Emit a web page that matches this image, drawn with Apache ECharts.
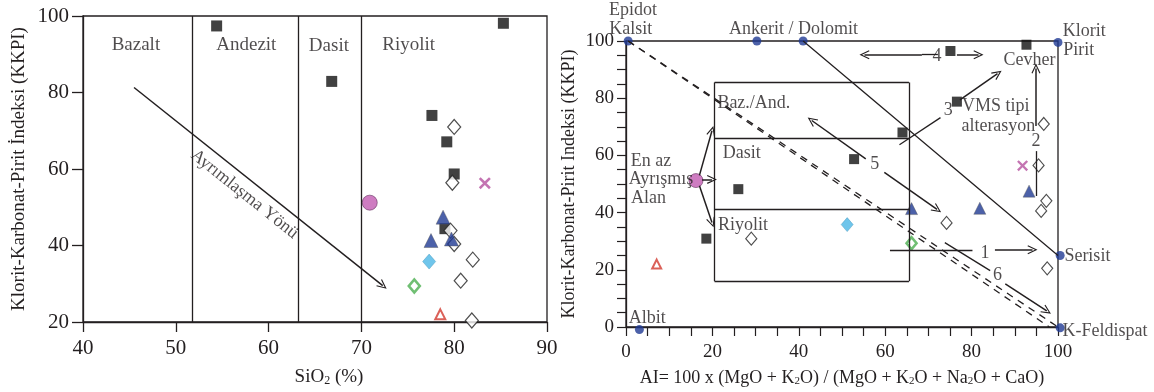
<!DOCTYPE html>
<html>
<head>
<meta charset="utf-8">
<script src="https://cdn.jsdelivr.net/npm/echarts@6/dist/echarts.min.js"></script>
<style>
  html, body { margin: 0; padding: 0; background: #fff; }
  #chart { width: 1154px; height: 392px; }
</style>
</head>
<body>
<div id="chart"></div>
<script>
// ---- left panel: SiO2 (%) vs KKPI ----
var leftSquares = [[54.4, 97.4], [85.3, 98.1], [66.8, 82.9], [77.6, 74.0], [79.2, 67.1], [80.0, 58.7], [79.0, 44.4]];
var leftOpenDiamonds = [[80.0, 71.0], [79.8, 56.4], [79.6, 43.9], [80.0, 40.4], [82.0, 36.3], [80.7, 30.8], [81.9, 20.4]];
var leftTriangles = [[78.8, 47.4], [77.5, 41.3], [79.7, 41.7]];
var leftCircle = [[70.9, 51.2]];
var leftCross = [[83.3, 56.3]];
var leftCyan = [[77.3, 35.8]];
var leftGreen = [[75.7, 29.4]];
var leftRed = [[78.5, 22.0]];
var rockBounds = [51.8, 63.2, 70];
var rockLabels = [['Bazalt', 45.7, 92.5], ['Andezit', 57.6, 92.5], ['Dasit', 66.5, 92.2], ['Riyolit', 75.1, 92.5]];
var trendArrow = [[45.5, 81.3], [72.3, 29.5]];
var trendText = ['Ayrımlaşma Yönü', 57.4, 53.4];

// ---- right panel: AI vs KKPI (alterasyon kutu diyagramı) ----
var rightSquares = [[75.1, 96.5], [92.7, 98.7], [76.6, 78.8], [64.0, 68.0], [52.8, 58.7], [26.0, 48.2], [18.6, 30.9]];
var rightOpenDiamonds = [[96.7, 71.0], [95.5, 56.5], [97.3, 44.1], [96.1, 40.6], [74.2, 36.4], [29.0, 30.9], [97.5, 20.5]];
var rightTriangles = [[66.1, 41.4], [81.9, 41.5], [93.3, 47.5]];
var rightCircle = [[16.2, 51.2]];
var rightCross = [[91.8, 56.4]];
var rightCyan = [[51.2, 35.8]];
var rightGreen = [[66.1, 29.3]];
var rightRed = [[7.1, 22.0]];
var endMembers = [[0.5, 100], [30.3, 100], [41, 100], [100, 99.5], [100.5, 25], [100.5, -0.3], [3.1, -0.9]];
var endLabels = [
  ['Epidot', 1.6, 110.7], ['Kalsit', 1.1, 104.1], ['Ankerit / Dolomit', 38.8, 104.1],
  ['Klorit', 106.1, 103.5], ['Pirit', 104.8, 96.8], ['Serisit', 106.8, 24.7],
  ['K-Feldispat', 110.9, -1.4], ['Albit', 4.9, 3.2]
];
var areaLabels = [
  ['Baz./And.', 29.6, 78.4], ['Dasit', 26.8, 60.8], ['Riyolit', 27.1, 35.6],
  ['En az', 5.8, 57.9], ['Ayrışmış', 8.1, 51.6], ['Alan', 5.2, 45.1],
  ['Cevher', 93.4, 93.3], ['VMS tipi', 85.6, 77.1], ['alterasyon', 86.2, 70.3],
  ['1', 83.1, 25.8], ['2', 94.9, 64.9], ['3', 74.6, 75.9], ['4', 72.0, 94.8],
  ['5', 57.6, 56.8], ['6', 86.0, 18.0]
];
// plain lines [x1, y1, x2, y2]
var solidLines = [
  [41, 100, 100, 25],
  [20.5, 85.5, 65.5, 85.5], [20.5, 16, 65.5, 16], [20.5, 16, 20.5, 85.5], [65.5, 16, 65.5, 85.5],
  [20.5, 66, 65.5, 66], [20.5, 41, 65.5, 41],
  [68.5, 95.2, 72.2, 95.2],
  [63.3, 63.7, 72.8, 73.2],
  [94.9, 45.8, 94.9, 61.5],
  [61.1, 27, 80.2, 27],
  [73.8, 29.5, 84.3, 19.7]
];
var dashedLines = [[0.5, 100, 100, 0], [0.5, 100, 98, 0]];
// arrows [x1, y1, x2, y2], head at the second point
var arrows = [
  [68.5, 95.2, 55.2, 95.2], [76.6, 95.2, 81.6, 95.2],
  [77.3, 79.4, 86, 88.6],
  [94.9, 70.3, 94.9, 90.4],
  [55.5, 58.8, 43, 72.2], [59.8, 54.1, 72, 41.1],
  [85.4, 27, 94.1, 27],
  [87.8, 15.1, 97.4, 5.6],
  [17.0, 53.0, 19.9, 68.6], [17.6, 51.6, 19.9, 51.6], [17.0, 49.4, 19.9, 36.5]
];

var serif = 'Liberation Serif, Times New Roman, serif';
var ink = '#231f20';
var navy = '#1f3a93';
var chevron = 'path://M0,12 L6,0 L12,12 L10.6,12.6 L6,3.2 L1.4,12.6 Z';

function pairLines(list, type, width, head) {
  return list.map(function (l) {
    return [
      { coord: [l[0], l[1]], symbol: 'none' },
      { coord: [l[2], l[3]], symbol: head ? chevron : 'none', symbolSize: head ? [9, 10] : 0,
        lineStyle: { type: type, width: width, color: ink } }
    ];
  });
}

function marks(gi, name, data, sym, size, style, z) {
  return {
    name: name, type: 'scatter', xAxisIndex: gi, yAxisIndex: gi, data: data, clip: false,
    symbol: sym, symbolSize: size, itemStyle: style, z: z || 3, silent: true
  };
}

function labels(gi, list, size) {
  return {
    type: 'scatter', xAxisIndex: gi, yAxisIndex: gi, clip: false, silent: true,
    symbolSize: 0, z: 5,
    data: list.map(function (t) { return { value: [t[1], t[2]], name: t[0] }; }),
    label: {
      show: true, position: 'inside', formatter: '{b}',
      fontFamily: serif, fontSize: size, color: ink
    }
  };
}

function lineHost(gi, solid, dashed, arr) {
  var data = pairLines(solid, 'solid', 1.3, false)
    .concat(pairLines(dashed, [7, 6], 1.3, false))
    .concat(pairLines(arr, 'solid', 1.5, true));
  return {
    type: 'scatter', xAxisIndex: gi, yAxisIndex: gi, data: [], silent: true,
    markLine: {
      silent: true, animation: false, symbol: 'none',
      label: { show: false }, emphasis: { disabled: true },
      lineStyle: { color: ink, width: 1.3, type: 'solid' },
      data: data
    }
  };
}

var crossPath = 'path://M1.5,0 L5,3.5 L8.5,0 L10,1.5 L6.5,5 L10,8.5 L8.5,10 L5,6.5 L1.5,10 L0,8.5 L3.5,5 L0,1.5 Z';
var sqStyle = { color: '#111' };
var openStyle = { color: '#fff', borderColor: '#222', borderWidth: 1.2 };
var triStyle = { color: navy, borderColor: '#555', borderWidth: 0.5 };
var circStyle = { color: '#c25bb2', borderColor: '#6b3a66', borderWidth: 0.8 };
var crossStyle = { color: '#b5519f' };
var cyanStyle = { color: '#4bb6e6', borderColor: '#3a8fb5', borderWidth: 0.5 };
var greenStyle = { color: '#fff', borderColor: '#4caf50', borderWidth: 2.6 };
var redStyle = { color: '#fff', borderColor: '#d23a2f', borderWidth: 2 };

var leftRockLines = rockBounds.map(function (x) { return [x, 20, x, 100]; });

var chart = echarts.init(document.getElementById('chart'));
chart.setOption({
  animation: false,
  grid: [
    { left: 83, right: 607, top: 16, bottom: 69, show: true, borderColor: ink, borderWidth: 1.3 },
    { left: 626, right: 96, top: 41, bottom: 64, show: true, borderColor: ink, borderWidth: 1.3 }
  ],
  xAxis: [
    {
      gridIndex: 0, type: 'value', min: 40, max: 90, interval: 10,
      name: 'SiO{sub|2} (%)', nameLocation: 'middle', nameGap: 46,
      nameTextStyle: { fontFamily: serif, fontSize: 19, color: ink, padding: [0, 0, 0, 28],
        rich: { sub: { fontFamily: serif, fontSize: 12, color: ink, verticalAlign: 'bottom', lineHeight: 12 } } },
      axisLine: { lineStyle: { color: ink, width: 1.3 } },
      axisTick: { length: 10, lineStyle: { color: ink, width: 1.3 } },
      axisLabel: { fontFamily: serif, fontSize: 21, color: ink, margin: 16 },
      splitLine: { show: false }
    },
    {
      gridIndex: 1, type: 'value', min: 0, max: 100, interval: 20,
      name: 'AI= 100 x (MgO + K{sub|2}O) / (MgO + K{sub|2}O + Na{sub|2}O + CaO)',
      nameLocation: 'middle', nameGap: 42,
      nameTextStyle: { fontFamily: serif, fontSize: 18, color: ink,
        rich: { sub: { fontFamily: serif, fontSize: 11, color: ink, verticalAlign: 'bottom', lineHeight: 11 } } },
      axisLine: { lineStyle: { color: ink, width: 1.3 } },
      axisTick: { length: 9, lineStyle: { color: ink, width: 1.2 } },
      minorTick: { show: true, splitNumber: 4, length: 9, lineStyle: { color: ink, width: 1.2 } },
      axisLabel: { fontFamily: serif, fontSize: 19, color: ink, margin: 16 },
      splitLine: { show: false }
    }
  ],
  yAxis: [
    {
      gridIndex: 0, type: 'value', min: 20, max: 100, interval: 20,
      name: 'Klorit-Karbonat-Pirit İndeksi (KKPI)', nameLocation: 'middle', nameGap: 54,
      nameTextStyle: { fontFamily: serif, fontSize: 19, color: ink },
      axisLine: { lineStyle: { color: ink, width: 1.3 } },
      axisTick: { length: 11, lineStyle: { color: ink, width: 1.3 } },
      axisLabel: { fontFamily: serif, fontSize: 21, color: ink, margin: 14 },
      splitLine: { show: false }
    },
    {
      gridIndex: 1, type: 'value', min: 0, max: 100, interval: 20,
      name: 'Klorit-Karbonat-Pirit Indeksi (KKPI)', nameLocation: 'middle', nameGap: 48,
      nameTextStyle: { fontFamily: serif, fontSize: 18, color: ink },
      axisLine: { lineStyle: { color: ink, width: 1.3 } },
      axisTick: { length: 9, lineStyle: { color: ink, width: 1.2 } },
      minorTick: { show: true, splitNumber: 4, length: 9, lineStyle: { color: ink, width: 1.2 } },
      axisLabel: { fontFamily: serif, fontSize: 19, color: ink, margin: 12 },
      splitLine: { show: false }
    }
  ],
  series: [
    // left panel
    lineHost(0, leftRockLines, [], [[trendArrow[0][0], trendArrow[0][1], trendArrow[1][0], trendArrow[1][1]]]),
    labels(0, rockLabels, 19),
    {
      type: 'scatter', xAxisIndex: 0, yAxisIndex: 0, symbolSize: 0, silent: true, z: 5,
      data: [{ value: [trendText[1], trendText[2]], name: trendText[0] }],
      label: { show: true, position: 'inside', formatter: '{b}', rotate: -38.6,
        fontFamily: serif, fontSize: 18, color: ink }
    },
    marks(0, 'kare', leftSquares, 'rect', 11, sqStyle),
    marks(0, 'açık eşkenar', leftOpenDiamonds, 'diamond', [13, 15], openStyle),
    marks(0, 'üçgen', leftTriangles, 'triangle', 14, triStyle),
    marks(0, 'daire', leftCircle, 'circle', 15, circStyle),
    marks(0, 'çarpı', leftCross, crossPath, 12, crossStyle),
    marks(0, 'mavi', leftCyan, 'diamond', [13, 15], cyanStyle),
    marks(0, 'yeşil', leftGreen, 'diamond', [11, 13], greenStyle),
    marks(0, 'kırmızı', leftRed, 'triangle', 10, redStyle),
    // right panel
    lineHost(1, solidLines, dashedLines, arrows),
    labels(1, endLabels, 18),
    labels(1, areaLabels, 18),
    marks(1, 'uç üye', endMembers, 'circle', 9, { color: navy }, 4),
    marks(1, 'kare', rightSquares, 'rect', 10, sqStyle),
    marks(1, 'açık eşkenar', rightOpenDiamonds, 'diamond', [11, 13], openStyle),
    marks(1, 'üçgen', rightTriangles, 'triangle', 12, triStyle),
    marks(1, 'daire', rightCircle, 'circle', 14, circStyle),
    marks(1, 'çarpı', rightCross, crossPath, 11, crossStyle),
    marks(1, 'mavi', rightCyan, 'diamond', [12, 14], cyanStyle),
    marks(1, 'yeşil', rightGreen, 'diamond', [10, 12], greenStyle),
    marks(1, 'kırmızı', rightRed, 'triangle', 9, redStyle)
  ]
});
</script>
</body>
</html>
